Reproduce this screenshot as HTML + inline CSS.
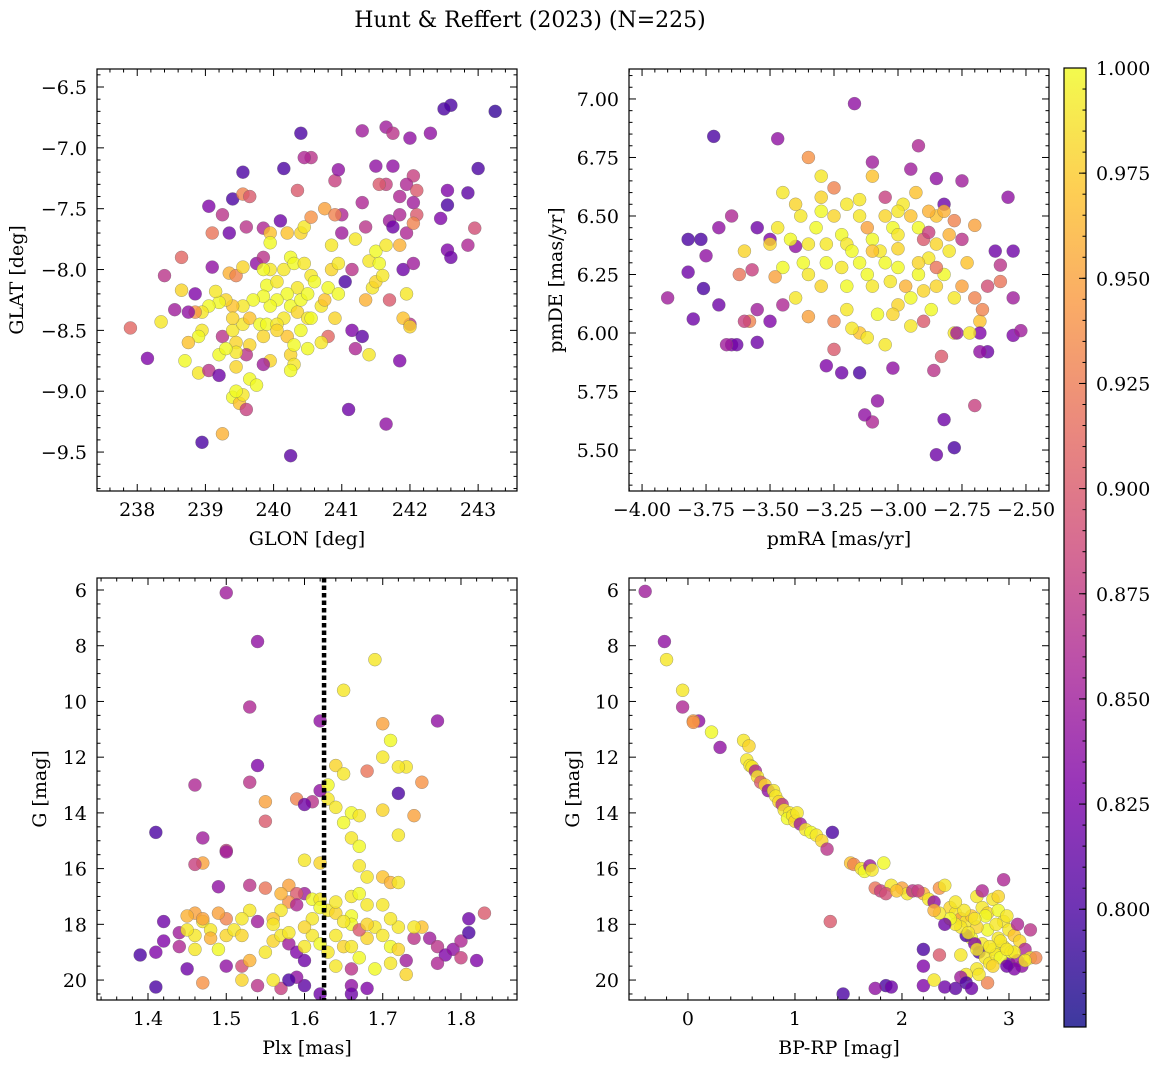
<!DOCTYPE html>
<html><head><meta charset="utf-8"><style>
body{margin:0;background:#fff}
svg{display:block;font-family:"DejaVu Serif","Liberation Serif",serif}
</style></head><body>
<svg id="fig" width="1161" height="1068" viewBox="0 0 1161 1068" xmlns="http://www.w3.org/2000/svg">
<defs><linearGradient id="cbg" x1="0" y1="1" x2="0" y2="0">
<stop offset="0" stop-color="#0d0887"/><stop offset="0.125" stop-color="#4c02a1"/><stop offset="0.25" stop-color="#7e03a8"/><stop offset="0.375" stop-color="#a92395"/><stop offset="0.5" stop-color="#cc4778"/><stop offset="0.625" stop-color="#e56b5d"/><stop offset="0.75" stop-color="#f89540"/><stop offset="0.875" stop-color="#fdc328"/><stop offset="1" stop-color="#f0f921"/></linearGradient></defs>
<text x="530" y="27" font-size="22" text-anchor="middle">Hunt &amp; Reffert (2023) (N=225)</text>
</svg>
<script>
// Panel data: [x, y, membership probability]
const skyPoints=[[243.25,-6.7,0.79],[242.6,-6.65,0.8],[242.5,-6.68,0.8],[243,-7.17,0.8],[242.85,-7.37,0.81],[242.55,-7.35,0.83],[242.3,-6.88,0.84],[242.55,-7.47,0.8],[242.45,-7.58,0.83],[242.55,-7.84,0.83],[242.6,-7.9,0.82],[242.85,-7.8,0.86],[242.95,-7.66,0.89],[242.0,-6.92,0.84],[241.65,-6.83,0.85],[241.75,-6.88,0.87],[241.3,-6.86,0.85],[241.5,-7.15,0.84],[241.65,-7.3,0.88],[241.55,-7.3,0.9],[241.75,-7.15,0.84],[242.05,-7.23,0.88],[241.95,-7.3,0.86],[242.1,-7.35,0.9],[241.85,-7.4,0.86],[242.05,-7.45,0.85],[242.1,-7.55,0.9],[241.7,-7.6,0.85],[241.85,-7.55,0.86],[241.3,-7.45,0.86],[241.35,-7.65,0.87],[241.0,-7.55,0.86],[240.9,-7.27,0.88],[240.95,-7.18,0.84],[240.55,-7.08,0.87],[240.45,-7.08,0.86],[240.4,-6.88,0.8],[240.15,-7.17,0.8],[240.35,-7.35,0.9],[240.1,-7.6,0.82],[240.2,-7.7,0.97],[240.4,-7.7,0.98],[240.45,-7.65,0.99],[240.55,-7.57,0.94],[240.75,-7.5,0.95],[239.55,-7.2,0.8],[239.4,-7.42,0.8],[239.55,-7.38,0.93],[239.65,-7.4,0.9],[239.25,-7.55,0.87],[239.05,-7.48,0.83],[239.1,-7.7,0.92],[239.35,-7.7,0.82],[239.6,-7.65,0.87],[239.85,-7.66,0.86],[239.95,-7.7,0.97],[239.95,-7.78,1.0],[238.4,-8.05,0.87],[238.65,-7.9,0.91],[238.65,-8.17,0.98],[238.55,-8.33,0.85],[238.35,-8.43,0.99],[237.9,-8.48,0.91],[238.15,-8.73,0.83],[238.85,-8.2,0.83],[239.1,-7.98,0.84],[239.35,-8.03,0.96],[239.45,-8.05,0.93],[239.55,-7.98,0.98],[239.75,-7.95,0.84],[239.85,-7.9,0.87],[239.95,-8.0,0.99],[239.9,-8.13,1.0],[240.05,-8.1,0.99],[240.15,-8.0,0.99],[240.25,-7.9,1.0],[240.3,-7.95,1.0],[240.35,-8.15,0.99],[240.2,-8.2,1.0],[240.05,-8.25,1.0],[240.25,-8.3,1.0],[240.35,-8.35,0.98],[240.4,-8.25,1.0],[240.5,-8.2,1.0],[240.5,-8.4,0.99],[240.15,-8.4,0.99],[239.95,-8.3,1.0],[239.85,-8.22,1.0],[239.7,-8.25,1.0],[239.55,-8.3,0.99],[239.4,-8.3,0.97],[239.3,-8.25,0.98],[239.2,-8.27,1.0],[239.05,-8.3,1.0],[239.15,-8.18,0.99],[238.95,-8.35,0.99],[238.85,-8.35,0.94],[238.95,-8.5,0.99],[238.9,-8.55,1.0],[238.75,-8.6,0.97],[238.7,-8.75,1.0],[238.75,-8.35,0.84],[238.9,-8.85,0.99],[238.95,-9.42,0.8],[239.05,-8.83,0.87],[239.2,-8.7,1.0],[239.25,-8.55,0.87],[239.4,-8.5,0.99],[239.45,-8.6,0.98],[239.55,-8.45,0.99],[239.4,-8.4,0.98],[239.65,-8.4,0.97],[239.8,-8.45,1.0],[239.9,-8.45,1.0],[239.85,-8.55,0.98],[239.95,-8.75,0.98],[239.85,-8.78,0.85],[239.65,-8.62,0.98],[239.6,-8.7,0.87],[239.45,-8.68,0.99],[239.2,-8.87,0.82],[239.3,-8.65,1.0],[239.45,-8.8,0.98],[239.4,-9.05,1.0],[239.5,-9.1,0.97],[239.55,-9.03,0.99],[239.45,-9.0,1.0],[239.6,-9.15,0.88],[239.65,-8.9,1.0],[239.75,-8.95,1.0],[239.25,-9.35,0.96],[240.25,-9.53,0.81],[240.05,-8.45,0.99],[240.2,-8.55,0.97],[240.25,-8.7,0.98],[240.3,-8.62,1.0],[240.3,-8.78,0.99],[240.25,-8.83,1.0],[240.5,-8.65,1.0],[240.55,-8.4,1.0],[240.7,-8.3,0.99],[240.75,-8.25,0.97],[240.8,-8.15,1.0],[240.95,-8.2,1.0],[240.85,-8.0,0.98],[240.95,-7.95,0.99],[240.85,-7.8,0.99],[240.9,-8.4,0.98],[240.8,-8.55,0.91],[241.0,-7.7,0.85],[241.05,-8.1,0.8],[241.15,-8.5,0.83],[241.2,-8.65,0.86],[241.3,-8.55,0.81],[241.1,-9.15,0.82],[241.35,-8.25,0.96],[241.45,-8.15,0.99],[241.4,-7.93,0.99],[241.5,-8.1,0.98],[241.6,-8.05,0.99],[241.5,-7.85,1.0],[241.65,-7.8,0.99],[241.7,-8.25,0.9],[241.75,-7.65,0.82],[241.85,-7.8,0.96],[241.9,-8.0,0.82],[241.95,-8.2,0.99],[242.0,-8.45,0.87],[241.9,-8.4,0.97],[242.0,-8.47,0.98],[241.85,-8.75,0.83],[241.65,-9.27,0.84],[241.4,-8.7,0.99],[242.05,-7.95,0.85],[241.95,-7.7,0.86],[242.05,-7.62,0.93],[241.15,-8.0,0.87],[241.55,-7.95,1.0],[241.2,-7.75,0.99],[240.9,-7.55,0.93],[240.55,-8.05,0.99],[240.45,-7.95,0.99],[240.6,-8.1,1.0],[240.7,-8.6,0.99],[240.4,-8.5,1.0],[240.05,-8.5,0.98],[239.85,-8.0,1.0]];
const pmPoints=[[-3.72,6.84,0.8],[-3.47,6.83,0.84],[-3.17,6.98,0.84],[-2.92,6.8,0.86],[-3.1,6.73,0.85],[-3.35,6.75,0.94],[-3.3,6.67,0.99],[-3.25,6.62,0.93],[-2.95,6.7,0.85],[-2.75,6.65,0.85],[-2.85,6.66,0.84],[-2.57,6.58,0.84],[-3.45,6.6,0.99],[-3.1,6.67,0.97],[-2.82,6.55,0.82],[-3.65,6.5,0.86],[-3.7,6.45,0.84],[-3.82,6.4,0.8],[-3.77,6.4,0.8],[-3.6,6.35,0.98],[-3.55,6.45,0.82],[-3.5,6.4,0.83],[-3.4,6.37,0.84],[-3.47,6.45,0.99],[-3.38,6.5,0.99],[-3.3,6.52,1.0],[-3.32,6.45,1.0],[-3.28,6.38,0.99],[-3.25,6.5,0.98],[-3.22,6.42,1.0],[-3.2,6.38,0.99],[-3.18,6.35,1.0],[-3.15,6.5,0.99],[-3.12,6.45,0.95],[-3.1,6.4,1.0],[-3.07,6.35,0.99],[-3.05,6.5,0.98],[-3.02,6.45,1.0],[-3.0,6.42,0.99],[-2.98,6.55,0.99],[-2.95,6.5,0.97],[-2.92,6.45,1.0],[-2.9,6.4,0.9],[-2.88,6.32,0.99],[-2.85,6.5,0.97],[-2.8,6.42,0.96],[-2.8,6.35,0.99],[-3.37,6.3,1.0],[-3.35,6.25,0.99],[-3.3,6.2,0.98],[-3.28,6.3,1.0],[-3.22,6.28,0.99],[-3.2,6.2,1.0],[-3.15,6.3,1.0],[-3.12,6.25,1.0],[-3.1,6.2,0.99],[-3.05,6.3,1.0],[-3.03,6.22,0.99],[-3.0,6.28,1.0],[-2.97,6.2,0.96],[-2.95,6.15,1.0],[-2.92,6.25,1.0],[-2.9,6.18,0.98],[-2.87,6.1,1.0],[-2.85,6.2,0.98],[-2.82,6.25,1.0],[-2.78,6.15,0.99],[-2.75,6.2,0.95],[-2.73,6.3,0.97],[-2.7,6.15,0.93],[-2.68,6.05,0.97],[-2.67,6.1,0.93],[-2.65,6.2,0.89],[-2.55,6.15,0.85],[-2.6,6.22,0.92],[-2.7,6.46,0.95],[-2.55,5.99,0.83],[-2.52,6.01,0.85],[-2.68,6.0,0.83],[-2.65,5.92,0.82],[-2.68,5.92,0.84],[-2.78,6.0,0.99],[-2.77,6.0,0.85],[-2.83,5.9,0.9],[-2.86,5.84,0.87],[-2.82,5.63,0.82],[-2.78,5.51,0.8],[-2.85,5.48,0.82],[-2.7,5.69,0.88],[-3.08,5.71,0.84],[-3.02,5.85,0.84],[-3.05,5.95,0.99],[-3.1,5.62,0.86],[-3.13,5.65,0.84],[-3.15,5.83,0.8],[-3.22,5.83,0.82],[-3.28,5.86,0.83],[-3.25,5.93,0.9],[-3.15,6.0,0.97],[-3.12,5.98,0.99],[-3.2,6.1,0.99],[-3.25,6.05,0.93],[-3.35,6.07,0.95],[-3.4,6.15,0.99],[-3.45,6.12,0.86],[-3.5,6.05,0.83],[-3.55,6.1,0.85],[-3.58,6.05,0.93],[-3.62,6.25,0.92],[-3.57,6.27,0.88],[-3.6,6.05,0.88],[-3.65,5.95,0.83],[-3.63,5.95,0.82],[-3.55,5.96,0.82],[-3.67,5.95,0.85],[-3.7,6.12,0.82],[-3.8,6.06,0.82],[-3.76,6.19,0.8],[-3.82,6.26,0.82],[-3.9,6.15,0.85],[-3.75,6.33,0.84],[-3.45,6.28,1.0],[-3.48,6.24,0.95],[-3.5,6.38,0.98],[-3.42,6.4,1.0],[-3.35,6.38,0.99],[-2.9,6.05,0.9],[-2.95,6.03,0.99],[-3.0,6.12,0.98],[-3.08,6.08,1.0],[-3.02,6.08,0.98],[-2.85,6.28,0.92],[-2.92,6.3,0.98],[-2.88,6.52,0.96],[-2.85,6.38,0.98],[-2.93,6.6,0.97],[-3.0,6.52,0.99],[-3.2,6.55,0.99],[-3.3,6.58,0.98],[-3.15,6.57,0.99],[-3.4,6.55,0.98],[-2.82,6.52,0.96],[-2.78,6.48,0.93],[-2.88,6.43,0.88],[-2.75,6.4,0.87],[-2.6,6.29,0.87],[-2.62,6.35,0.82],[-2.55,6.35,0.82],[-3.05,6.58,0.88],[-3.1,6.35,0.97],[-3.0,6.36,0.98],[-3.18,6.02,0.99],[-2.72,6.0,0.99]];
const plxPoints=[[1.5,6.1,0.85],[1.54,7.85,0.84],[1.69,8.5,0.99],[1.65,9.6,0.99],[1.53,10.2,0.86],[1.62,10.7,0.84],[1.7,10.8,0.95],[1.77,10.7,0.84],[1.71,11.4,1.0],[1.7,12.0,0.99],[1.73,12.35,0.99],[1.72,12.35,0.99],[1.54,12.3,0.83],[1.64,12.3,0.98],[1.65,12.6,0.99],[1.68,12.5,0.92],[1.75,12.9,0.94],[1.72,13.3,0.8],[1.53,12.9,0.87],[1.46,13.0,0.86],[1.59,13.5,0.93],[1.61,13.6,0.87],[1.6,13.7,0.82],[1.63,13.5,0.99],[1.64,13.8,0.99],[1.66,14.0,1.0],[1.67,14.1,0.99],[1.65,14.35,1.0],[1.7,13.9,0.98],[1.74,14.1,0.95],[1.62,13.2,0.84],[1.63,13.0,1.0],[1.55,13.6,0.95],[1.55,14.3,0.9],[1.41,14.7,0.8],[1.47,14.9,0.85],[1.5,15.35,0.88],[1.5,15.4,0.85],[1.66,14.9,0.99],[1.67,15.2,1.0],[1.72,14.8,0.99],[1.6,15.7,0.99],[1.62,15.8,0.98],[1.67,15.9,0.99],[1.68,16.3,0.99],[1.7,16.3,0.97],[1.71,16.5,0.96],[1.72,16.5,0.99],[1.47,15.8,0.95],[1.46,15.85,0.88],[1.49,16.65,0.84],[1.53,16.6,0.87],[1.55,16.7,0.92],[1.58,16.6,0.95],[1.6,16.9,0.85],[1.59,16.9,0.9],[1.61,17.1,1.0],[1.62,17.1,0.99],[1.63,17.5,0.99],[1.64,17.6,0.98],[1.66,17.0,0.99],[1.67,16.9,1.0],[1.68,17.3,0.99],[1.66,17.7,1.0],[1.7,17.3,0.99],[1.58,17.2,0.94],[1.57,17.5,0.99],[1.53,17.5,0.99],[1.56,17.8,0.97],[1.54,17.9,0.85],[1.52,17.8,0.99],[1.5,17.8,0.93],[1.49,17.6,0.95],[1.46,17.6,0.95],[1.45,17.7,0.96],[1.47,17.9,0.99],[1.48,18.2,0.99],[1.46,18.4,0.99],[1.44,18.3,0.85],[1.42,17.9,0.82],[1.42,18.6,0.83],[1.44,18.8,0.86],[1.41,19.0,0.83],[1.39,19.1,0.8],[1.41,20.25,0.8],[1.45,19.6,0.82],[1.46,18.9,0.99],[1.48,18.5,0.96],[1.49,18.9,1.0],[1.5,18.4,0.98],[1.51,18.2,0.99],[1.52,18.4,0.98],[1.5,19.5,0.84],[1.52,19.5,0.89],[1.53,19.3,0.96],[1.55,19.0,0.99],[1.56,18.6,0.98],[1.57,18.4,0.99],[1.56,18.0,0.99],[1.58,18.7,0.85],[1.59,19.0,0.83],[1.6,19.3,0.82],[1.6,18.8,0.99],[1.61,18.4,0.99],[1.62,18.7,1.0],[1.63,19.0,0.99],[1.64,18.4,0.99],[1.65,18.8,0.98],[1.66,18.8,0.99],[1.67,19.2,1.0],[1.68,18.5,0.98],[1.69,18.1,0.99],[1.7,18.4,0.99],[1.71,18.8,1.0],[1.72,18.9,0.98],[1.73,19.3,0.85],[1.74,18.5,0.87],[1.73,19.8,0.98],[1.75,18.1,0.97],[1.76,18.5,0.85],[1.77,18.8,0.87],[1.78,19.1,0.83],[1.79,18.9,0.84],[1.8,18.6,0.86],[1.81,18.3,0.8],[1.8,19.2,0.88],[1.81,17.8,0.82],[1.83,17.6,0.9],[1.82,19.3,0.83],[1.77,19.4,0.86],[1.68,20.3,0.83],[1.66,20.2,0.84],[1.66,20.5,0.82],[1.62,20.5,0.82],[1.6,20.2,0.81],[1.59,19.9,0.84],[1.57,20.3,0.88],[1.56,20.0,0.99],[1.54,20.2,0.87],[1.47,20.1,0.94],[1.58,20.0,0.8],[1.52,20.0,0.98],[1.45,18.2,0.99],[1.47,17.8,0.95],[1.66,18.0,1.0],[1.67,18.2,0.9],[1.72,18.1,0.99],[1.74,18.1,0.99],[1.62,17.4,1.0],[1.64,17.2,0.99],[1.61,17.8,0.99],[1.6,18.1,0.98],[1.58,18.3,0.99],[1.59,17.3,0.86],[1.57,16.9,0.96],[1.71,17.8,0.99],[1.68,18.0,0.98],[1.65,17.9,0.99],[1.69,19.6,1.0],[1.71,19.4,0.99],[1.64,19.5,0.99],[1.66,19.6,0.87]];
const cmdPoints=[[-0.4,6.05,0.85],[-0.22,7.85,0.84],[-0.2,8.5,0.99],[-0.05,9.6,0.99],[-0.05,10.2,0.86],[0.1,10.7,0.84],[0.05,10.7,0.95],[0.05,10.75,0.94],[0.22,11.1,1.0],[0.3,11.65,0.84],[0.52,11.4,0.99],[0.57,11.6,0.98],[0.55,12.1,0.99],[0.58,12.3,0.99],[0.6,12.35,0.99],[0.63,12.5,0.86],[0.65,12.7,0.99],[0.68,12.9,0.9],[0.72,13.0,0.98],[0.75,13.2,0.84],[0.8,13.2,0.99],[0.82,13.4,0.99],[0.85,13.6,0.98],[0.88,13.7,0.87],[0.9,13.9,0.99],[0.95,14.0,0.99],[0.93,14.2,1.0],[0.98,14.1,0.99],[1.0,14.3,0.98],[1.02,14.0,0.99],[1.05,14.4,0.85],[1.1,14.6,0.99],[1.15,14.7,1.0],[1.2,14.8,0.99],[1.25,15.0,0.98],[1.3,15.3,0.87],[1.35,14.7,0.8],[1.52,15.8,0.97],[1.55,15.85,0.93],[1.62,16.0,0.99],[1.65,16.1,1.0],[1.7,15.9,0.85],[1.72,16.05,0.99],[1.83,15.8,1.0],[1.75,16.7,0.92],[1.8,16.8,0.88],[1.9,16.6,0.99],[1.85,16.9,0.89],[2.0,16.7,0.95],[2.05,16.9,0.99],[2.1,16.8,0.87],[2.2,16.9,0.96],[2.25,17.1,0.99],[2.3,17.2,0.84],[2.35,16.7,0.94],[2.4,16.6,0.99],[2.45,17.4,0.98],[2.5,17.6,0.99],[2.55,17.8,0.95],[2.6,17.9,0.99],[2.65,17.7,0.97],[2.7,17.0,0.99],[2.75,17.4,0.99],[2.8,17.6,0.98],[2.85,17.1,0.99],[2.9,17.5,1.0],[2.95,17.9,0.99],[3.0,18.2,0.99],[3.05,18.4,0.97],[3.1,18.6,0.98],[3.15,18.9,0.86],[3.2,19.2,0.99],[3.25,19.2,0.93],[3.12,19.5,0.84],[3.0,19.4,0.82],[2.95,18.8,0.99],[2.9,18.5,0.99],[2.85,18.9,1.0],[2.8,18.2,1.0],[2.75,18.7,0.99],[2.7,18.1,0.98],[2.65,18.5,1.0],[2.6,18.4,0.8],[2.55,18.1,0.99],[2.5,18.0,0.99],[2.45,17.8,1.0],[2.4,18.0,0.82],[2.35,17.6,0.99],[2.3,17.5,0.96],[2.68,18.7,0.83],[2.72,19.0,0.8],[2.78,19.2,0.99],[2.82,19.4,0.99],[2.88,19.1,0.99],[2.92,19.2,1.0],[3.02,19.0,1.0],[3.08,19.3,0.85],[3.05,19.6,0.83],[2.98,19.5,0.82],[2.85,19.5,0.98],[2.7,19.6,0.99],[2.6,19.8,0.99],[2.55,19.9,0.85],[2.6,20.1,0.8],[2.65,20.3,0.82],[2.5,20.3,0.81],[2.8,20.1,0.93],[2.72,19.8,0.99],[2.75,16.8,0.86],[2.95,16.4,0.86],[3.2,18.2,0.87],[2.9,17.0,0.98],[2.7,18.9,0.99],[2.2,18.9,0.8],[2.2,19.5,0.83],[2.2,20.2,0.83],[2.35,19.1,0.9],[2.4,20.25,0.82],[2.3,20.0,0.99],[1.85,20.2,0.8],[1.9,20.25,0.82],[1.75,20.3,0.84],[1.45,20.5,0.8],[1.33,17.9,0.9],[2.62,18.3,0.99],[2.58,17.5,0.99],[2.78,17.7,1.0],[2.88,18.0,0.99],[2.98,17.7,0.99],[3.08,18.0,0.86],[2.92,18.6,0.99],[2.82,18.8,0.99],[2.68,17.8,0.99],[2.55,19.1,0.99],[3.05,19.0,0.99],[2.98,18.9,0.99],[3.15,19.3,0.99],[2.5,17.2,0.99],[1.95,16.8,0.97],[2.15,16.8,0.88]];
const plxCut=1.625;
const cbTicks=[0.800,0.825,0.850,0.875,0.900,0.925,0.950,0.975,1.000];
const VMIN=0.772,VMAX=1.0;

const NS='http://www.w3.org/2000/svg';
const svg=document.getElementById('fig');
function mk(tag,attrs,parent){const e=document.createElementNS(NS,tag);for(const k in attrs)e.setAttribute(k,attrs[k]);(parent||svg).appendChild(e);return e;}
const stops=[[13,8,135],[76,2,161],[126,3,168],[169,35,149],[204,71,120],[229,107,93],[248,149,64],[253,195,40],[240,249,33]];
function cmap(v){let t=Math.max(0,Math.min(1,(v-VMIN)/(VMAX-VMIN)))*8;let i=Math.min(7,Math.floor(t));let f=t-i;const a=stops[i],b=stops[i+1];return 'rgb('+a.map((c,k)=>Math.round(c+(b[k]-c)*f)).join(',')+')';}
function fmt(v,d){let s=v.toFixed(d);if(v<0)s='\u2212'+s.slice(1);return s;}
const FS=19;

function panel(o){
  const g=mk('g',{});
  
  
  const X=v=>o.x0+(v-o.xr[0])/(o.xr[1]-o.xr[0])*o.w;
  const Y=v=>o.inv? o.y0+(v-o.yr[0])/(o.yr[1]-o.yr[0])*o.h : o.y0+o.h-(v-o.yr[0])/(o.yr[1]-o.yr[0])*o.h;
  const cp='cp'+o.name;
  const c=mk('clipPath',{id:cp},g);mk('rect',{x:o.x0,y:o.y0,width:o.w,height:o.h},c);
  const pg=mk('g',{'clip-path':'url(#'+cp+')'},g);
  for(const p of o.pts){
    const m=mk('circle',{cx:X(p[0]),cy:Y(p[1]),r:6.5,fill:cmap(p[2]),'fill-opacity':0.8,stroke:'#666','stroke-width':0.5,'stroke-opacity':0.6},pg);
    
    
  }
  if(o.vline!==undefined){
    const l=mk('line',{x1:X(o.vline),x2:X(o.vline),y1:o.y0,y2:o.y0+o.h,stroke:'#000','stroke-width':4.5,'stroke-dasharray':'4.5 3'},pg);
    
    
  }
  const fr=mk('rect',{x:o.x0,y:o.y0,width:o.w,height:o.h,fill:'none',stroke:'#000','stroke-width':1.2},g);
  
  
  const eps=1e-9;
  const lo=Math.min(...o.xr),hi=Math.max(...o.xr);
  for(let v=Math.ceil(lo/o.xmin-eps)*o.xmin;v<=hi+eps;v+=o.xmin){
    const isM=Math.abs(v/o.xmaj-Math.round(v/o.xmaj))<1e-6;const L=isM?7:3.5;const x=X(v);
    mk('line',{x1:x,x2:x,y1:o.y0+o.h,y2:o.y0+o.h-L,stroke:'#000','stroke-width':1},g);
    mk('line',{x1:x,x2:x,y1:o.y0,y2:o.y0+L,stroke:'#000','stroke-width':1},g);
    if(isM){const t=mk('text',{x:x,y:o.y0+o.h+25,'font-size':FS,'text-anchor':'middle'},g);t.textContent=fmt(v,o.xd);
      }
  }
  const ylo=Math.min(...o.yr),yhi=Math.max(...o.yr);
  for(let v=Math.ceil(ylo/o.ymin-eps)*o.ymin;v<=yhi+eps;v+=o.ymin){
    const isM=Math.abs(v/o.ymaj-Math.round(v/o.ymaj))<1e-6;const L=isM?7:3.5;const y=Y(v);
    mk('line',{x1:o.x0,x2:o.x0+L,y1:y,y2:y,stroke:'#000','stroke-width':1},g);
    mk('line',{x1:o.x0+o.w,x2:o.x0+o.w-L,y1:y,y2:y,stroke:'#000','stroke-width':1},g);
    if(isM){const t=mk('text',{x:o.x0-10,y:y+7,'font-size':FS,'text-anchor':'end'},g);t.textContent=fmt(v,o.yd);
      }
  }
  const xl=mk('text',{x:o.x0+o.w/2,y:o.y0+o.h+54,'font-size':FS,'text-anchor':'middle'},g);xl.textContent=o.xlab;
  
  const yx=o.ylx,yy=o.y0+o.h/2;
  const yl=mk('text',{x:yx,y:yy,'font-size':FS,'text-anchor':'middle',transform:'rotate(-90 '+yx+' '+yy+')'},g);yl.textContent=o.ylab;
  
}
panel({name:'sky-position-panel',pts:skyPoints,x0:97,y0:69,w:420,h:422,xr:[237.41,243.57],yr:[-9.82,-6.352],xmaj:1,xmin:0.2,ymaj:0.5,ymin:0.1,xd:0,yd:1,xlab:'GLON [deg]',ylab:'GLAT [deg]',ylx:23});
panel({name:'proper-motion-panel',pts:pmPoints,x0:629,y0:69,w:420,h:422,xr:[-4.051,-2.41],yr:[5.325,7.128],xmaj:0.25,xmin:0.05,ymaj:0.25,ymin:0.05,xd:2,yd:2,xlab:'pmRA [mas/yr]',ylab:'pmDE [mas/yr]',ylx:562});
panel({name:'parallax-magnitude-panel',pts:plxPoints,x0:97,y0:578,w:420,h:422,xr:[1.3348,1.8716],yr:[5.569,20.716],inv:true,xmaj:0.1,xmin:0.02,ymaj:2,ymin:0.5,xd:1,yd:0,xlab:'Plx [mas]',ylab:'G [mag]',ylx:46,vline:plxCut});
panel({name:'color-magnitude-panel',pts:cmdPoints,x0:629,y0:578,w:420,h:422,xr:[-0.551,3.374],yr:[5.569,20.716],inv:true,xmaj:1,xmin:0.2,ymaj:2,ymin:0.5,xd:0,yd:0,xlab:'BP-RP [mag]',ylab:'G [mag]',ylx:579});

// colorbar
const cb=mk('g',{});


const cx0=1064,cw=22,cy0=68,ch=959;
mk('rect',{x:cx0,y:cy0,width:cw,height:ch,fill:'url(#cbg)','fill-opacity':0.8},cb);
mk('rect',{x:cx0,y:cy0,width:cw,height:ch,fill:'none',stroke:'#000','stroke-width':1.2},cb);
const CY=v=>cy0+ch-(v-VMIN)/(VMAX-VMIN)*ch;
for(let v=0.775;v<=1.0001;v+=0.005){const y=CY(v);mk('line',{x1:cx0+cw,x2:cx0+cw-3.5,y1:y,y2:y,stroke:'#000'},cb);}
for(const v of cbTicks){const y=CY(v);mk('line',{x1:cx0+cw,x2:cx0+cw-7,y1:y,y2:y,stroke:'#000'},cb);
  const t=mk('text',{x:cx0+cw+10,y:y+7,'font-size':FS},cb);t.textContent=v.toFixed(3);
  }
</script>
</body></html>
